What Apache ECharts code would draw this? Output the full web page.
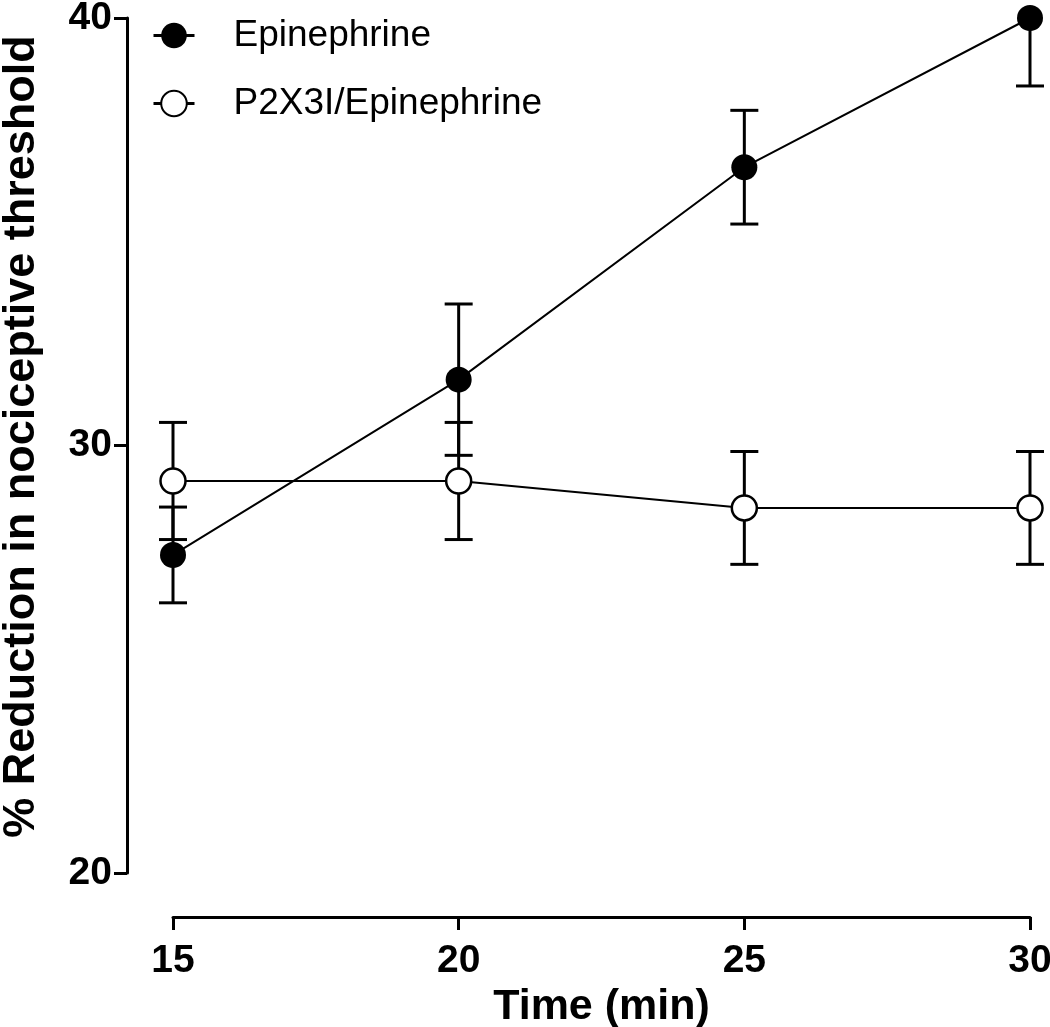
<!DOCTYPE html>
<html>
<head>
<meta charset="utf-8">
<script src="https://cdn.jsdelivr.net/npm/echarts@6/dist/echarts.min.js"></script>
<style>
html,body{margin:0;padding:0;background:#fff;}
#chart{width:1050px;height:1027px;}
</style>
</head>
<body>
<div id="chart"></div>
<script>
const timePoints = [15, 20, 25, 30];
const epiMean = [27.44, 31.54, 36.51, 40.0];
const epiErr = [1.12, 1.77, 1.33, 1.59];
const p2Mean = [29.17, 29.17, 28.54, 28.54];
const p2Err = [1.37, 1.37, 1.32, 1.32];
const seriesNames = ['Epinephrine', 'P2X3I/Epinephrine'];
const xTicks = [15, 20, 25, 30];
const yTicks = [20, 30, 40];
const Y_MIN = 20, Y_MAX = 40;

const FONT = '"Liberation Sans", Arial, sans-serif';

function errData(means, errs) {
  return timePoints.map((t, i) => [t, means[i] - errs[i], means[i] + errs[i]]);
}

function renderErr(params, api) {
  const x = api.value(0);
  const lo = api.value(1), hi = api.value(2);
  const loC = Math.max(lo, Y_MIN), hiC = Math.min(hi, Y_MAX);
  const pLo = api.coord([x, loC]);
  const pHi = api.coord([x, hiC]);
  const hw = 14;
  const style = { stroke: '#000', lineWidth: 3, fill: null };
  const children = [
    { type: 'line', shape: { x1: pHi[0], y1: pHi[1], x2: pLo[0], y2: pLo[1] }, style: style }
  ];
  if (hi <= Y_MAX) children.push({ type: 'line', shape: { x1: pHi[0] - hw, y1: pHi[1], x2: pHi[0] + hw, y2: pHi[1] }, style: style });
  if (lo >= Y_MIN) children.push({ type: 'line', shape: { x1: pLo[0] - hw, y1: pLo[1], x2: pLo[0] + hw, y2: pLo[1] }, style: style });
  return { type: 'group', children: children };
}

const chart = echarts.init(document.getElementById('chart'), null, { renderer: 'canvas' });
chart.setOption({
  animation: false,
  backgroundColor: '#fff',
  grid: { left: 173, right: 20, top: 18, bottom: 154, containLabel: false, outerBoundsMode: 'none' },
  legend: {
    data: seriesNames,
    orient: 'vertical',
    left: 152,
    top: 17,
    padding: 0,
    itemWidth: 41,
    itemHeight: 32,
    itemGap: 31,
    textStyle: { color: '#000', fontFamily: FONT, fontSize: 37, padding: [0, 0, 0, 34] },
    lineStyle: { width: 3 }
  },
  xAxis: {
    type: 'value',
    min: 15, max: 30, interval: 5,
    offset: 44,
    name: 'Time (min)',
    nameLocation: 'middle',
    nameGap: 62,
    nameTextStyle: { color: '#000', fontFamily: FONT, fontWeight: 'bold', fontSize: 43 },
    axisLine: { show: true, onZero: false, lineStyle: { color: '#000', width: 3 } },
    axisTick: { show: true, length: 13, lineStyle: { color: '#000', width: 3 } },
    axisLabel: { color: '#000', fontFamily: FONT, fontWeight: 'bold', fontSize: 39, margin: 25,
      formatter: v => xTicks.includes(v) ? String(v) : '' },
    splitLine: { show: false }
  },
  yAxis: {
    type: 'value',
    min: Y_MIN, max: Y_MAX, interval: 10,
    offset: 46,
    name: '% Reduction in nociceptive threshold',
    nameLocation: 'middle',
    nameGap: 83,
    nameRotate: 90,
    nameTextStyle: { color: '#000', fontFamily: FONT, fontWeight: 'bold', fontSize: 45, padding: [0, 0, 0, 18] },
    axisLine: { show: true, onZero: false, lineStyle: { color: '#000', width: 3 } },
    axisTick: { show: true, length: 13, lineStyle: { color: '#000', width: 3 } },
    axisLabel: { color: '#000', fontFamily: FONT, fontWeight: 'bold', fontSize: 39, margin: 15,
      formatter: v => yTicks.includes(v) ? String(v) : '' },
    splitLine: { show: false }
  },
  series: [
    {
      type: 'custom', name: 'epiErr', renderItem: renderErr, clip: false, z: 1,
      data: errData(epiMean, epiErr), silent: true
    },
    {
      type: 'custom', name: 'p2Err', renderItem: renderErr, clip: false, z: 1,
      data: errData(p2Mean, p2Err), silent: true
    },
    {
      type: 'line', name: seriesNames[0], z: 3, clip: false,
      data: timePoints.map((t, i) => [t, epiMean[i]]),
      symbol: 'circle', symbolSize: 26,
      itemStyle: { color: '#000', borderColor: '#000', borderWidth: 0 },
      lineStyle: { color: '#000', width: 2 }
    },
    {
      type: 'line', name: seriesNames[1], z: 3, clip: false,
      data: timePoints.map((t, i) => [t, p2Mean[i]]),
      symbol: 'circle', symbolSize: 25,
      itemStyle: { color: '#fff', borderColor: '#000', borderWidth: 2.5 },
      lineStyle: { color: '#000', width: 2 }
    }
  ]
});
</script>
</body>
</html>
